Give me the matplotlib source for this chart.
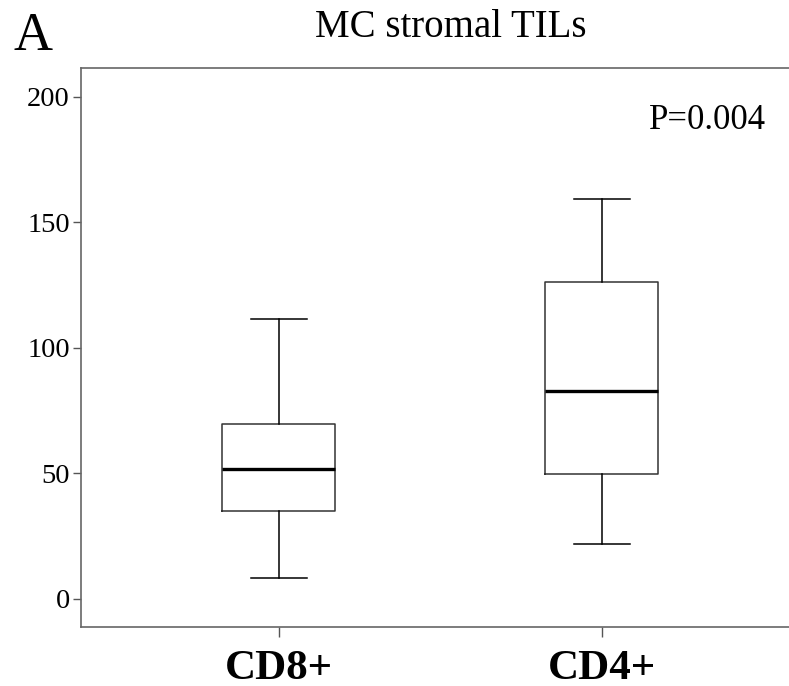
import matplotlib
matplotlib.use('Agg')
from matplotlib import pyplot as plt

plt.rcParams['font.family'] = ['Liberation Serif', 'DejaVu Serif']

# box statistics
groups = ['CD8+', 'CD4+']
whisker_low = [8.5, 22.0]
q1 = [34.9, 49.6]
median = [51.6, 82.8]
q3 = [69.8, 126.1]
whisker_high = [111.5, 159.1]

stats = []
for i, g in enumerate(groups):
    stats.append({'label': g, 'whislo': whisker_low[i], 'q1': q1[i],
                  'med': median[i], 'q3': q3[i], 'whishi': whisker_high[i],
                  'fliers': []})

fig = plt.figure(figsize=(7.89, 6.86), dpi=100)
ax = fig.add_axes([0.1027, 0.0856, 0.8973, 0.8148])

line_col = '#333333'
ax.bxp(stats, positions=[1, 2], widths=0.35, capwidths=0.173,
       showfliers=False,
       boxprops=dict(color=line_col, linewidth=1.1),
       whiskerprops=dict(color='black', linewidth=1.1),
       capprops=dict(color='black', linewidth=1.1),
       medianprops=dict(color='black', linewidth=2.4))

ax.set_xlim(0.388, 2.58)
ax.set_ylim(-11.3, 211.3)
ax.set_yticks([0, 50, 100, 150, 200])
ax.set_xticks([1, 2])
ax.set_xticklabels(groups, fontsize=31, fontweight='bold')
ax.tick_params(axis='y', labelsize=20.5, length=6, width=1, color='#555555', pad=2)
ax.tick_params(axis='x', length=7, width=1, color='#555555', pad=9)

ax.spines['right'].set_visible(False)
for s in ['left', 'bottom', 'top']:
    ax.spines[s].set_color('#666666')
    ax.spines[s].set_linewidth(1.2)

ax.text(2.328, 190.6, 'P=0.004', fontsize=25, ha='center', va='center')
fig.text(0.571, 0.946, 'MC stromal TILs', fontsize=28, ha='center', va='baseline')
fig.text(0.0165, 0.927, 'A', fontsize=39, ha='left', va='baseline')

fig.savefig('out.png', dpi=100)
